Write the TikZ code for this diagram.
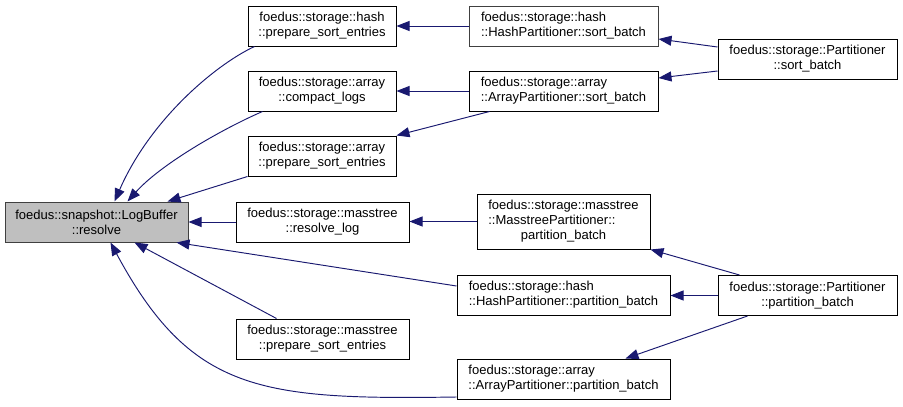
\documentclass[tikz,border=0pt]{standalone}
\usepackage{fontspec}
\setmainfont{Liberation Sans}
\usetikzlibrary{arrows.meta,calc}
\definecolor{edgecol}{RGB}{25,25,112}
\definecolor{darkbord}{RGB}{64,64,64}
\definecolor{mainfill}{RGB}{191,191,191}
\begin{document}
\begin{tikzpicture}[x=1pt,y=-1pt,
  box/.style={draw=black,line width=1pt,fill=white,inner sep=0pt,minimum height=40pt,
    font=\fontsize{13}{15}\selectfont,align=center,text=black},
  lbox/.style={box,align=left},
  edge/.style={draw=edgecol,line width=0.95pt,-{Triangle[length=13pt,width=10pt]}}]
\useasboundingbox (0,0) rectangle (903,407);
% nodes
\node[box,fill=mainfill,draw=darkbord,minimum width=183pt] (resolve) at (96.5,222) {foedus::snapshot::LogBuffer\\::resolve};
\node[box,minimum width=148pt] (hps) at (322,26) {foedus::storage::hash\\::prepare\_sort\_entries};
\node[box,minimum width=148pt] (compact) at (322,91) {foedus::storage::array\\::compact\_logs};
\node[box,minimum width=148pt] (aps) at (322,156) {foedus::storage::array\\::prepare\_sort\_entries};
\node[box,minimum width=173pt] (rlog) at (322.5,222) {foedus::storage::masstree\\::resolve\_log};
\node[box,minimum width=173pt] (mps) at (322.5,339) {foedus::storage::masstree\\::prepare\_sort\_entries};
\node[lbox,draw=darkbord,minimum width=189pt] (hsb) at (563.5,26) {foedus::storage::hash\\::HashPartitioner::sort\_batch};
\node[lbox,minimum width=189pt] (asb) at (563.5,91) {foedus::storage::array\\::ArrayPartitioner::sort\_batch};
\node[box,minimum width=179pt] (psb) at (807.5,59) {foedus::storage::Partitioner\\::sort\_batch};
\node[box,minimum width=173pt,minimum height=55pt] (mpb) at (563.5,221.5) {\begin{tabular}{@{}l@{}}foedus::storage::masstree\\::MasstreePartitioner::\\\multicolumn{1}{@{}c@{}}{partition\_batch}\end{tabular}};
\node[lbox,minimum width=213pt] (hpb) at (563.5,295) {foedus::storage::hash\\::HashPartitioner::partition\_batch};
\node[lbox,minimum width=213pt] (apb) at (563.5,379) {foedus::storage::array\\::ArrayPartitioner::partition\_batch};
\node[box,minimum width=179pt] (ppb) at (807.5,295.5) {foedus::storage::Partitioner\\::partition\_batch};
% edges into resolve
\draw[edge] ($(hps.south west)+(7,0)$) .. controls (215,65) and (150,120) .. ($(resolve.north west)+(110,0)$);
\draw[edge] ($(compact.south west)+(15,0)$) .. controls (220,130) and (160,165) .. ($(resolve.north west)+(123,0)$);
\draw[edge] (aps.south west) -- ($(resolve.north west)+(163,0)$);
\draw[edge] (rlog.west) -- (resolve.east);
\draw[edge] ($(hpb.west)+(0,-9)$) -- ($(resolve.south west)+(172,0)$);
\draw[edge] ($(mps.north west)+(41,0)$) -- ($(resolve.south west)+(130,0)$);
\draw[edge] ($(apb.west)+(0,18)$) .. controls (260,400) and (191,392) .. ($(resolve.south west)+(106,0)$);
% second layer
\draw[edge] (hsb.west) -- (hps.east);
\draw[edge] (asb.west) -- (compact.east);
\draw[edge] ($(asb.south west)+(21,0)$) -- (aps.north east);
\draw[edge] (mpb.west) -- (rlog.east |- mpb.west);
% third layer
\draw[edge] ($(psb.west)+(0,-12)$) -- ($(hsb.east)+(0,13)$);
\draw[edge] ($(psb.west)+(0,12)$) -- ($(asb.east)+(0,-13)$);
\draw[edge] ($(ppb.north west)+(22,0)$) -- (mpb.south east);
\draw[edge] (ppb.west) -- (hpb.east |- ppb.west);
\draw[edge] ($(ppb.south west)+(30,0)$) -- ($(apb.north east)+(-45,0)$);
\end{tikzpicture}
\end{document}
